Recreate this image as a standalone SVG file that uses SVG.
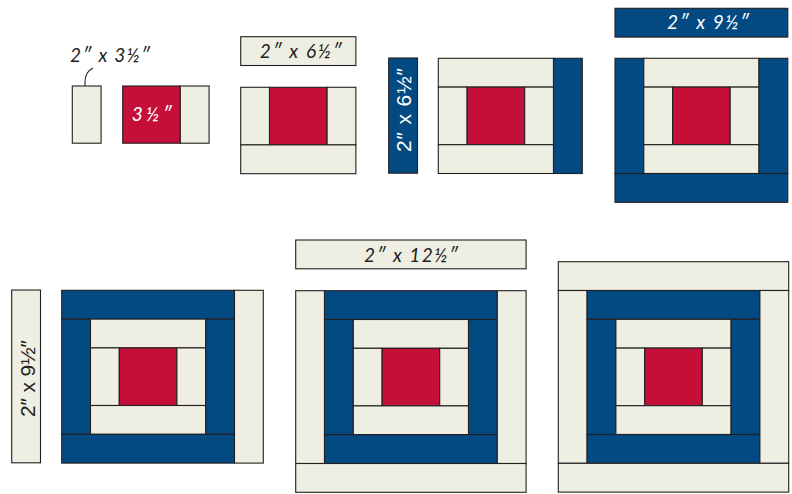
<svg xmlns="http://www.w3.org/2000/svg" width="792" height="494" viewBox="0 0 792 494">
<style>
rect{stroke:#231F20;stroke-width:1.1}
.c{fill:#EEEEE2}
.r{fill:#C41039}
.b{fill:#044A82}
.t{font-family:"Lato","Open Sans","DejaVu Sans",sans-serif;font-style:italic;font-size:19px;fill:#231F20}
.v{font-family:"Liberation Sans","Arial","DejaVu Sans",sans-serif;font-size:21px;fill:#231F20}
text.w{fill:#FFFFFF}
.lead{fill:none;stroke:#231F20;stroke-width:1.1}
</style>
<rect x="0" y="0" width="792" height="494" fill="#FFFFFF" style="stroke:none"/>

<g id="connectors">
<path class="lead" d="M93,68 C87,71 85,76 85,82 L85,93"/>
</g>

<g id="label-2x3half">
<text class="t" x="70" y="62" textLength="80" lengthAdjust="spacing">2″ x 3½″</text>
</g>

<g id="strip-2x3half">
<rect class="c" x="72.3" y="86" width="28.8" height="57.2"/>
</g>

<g id="block-1" transform="translate(122.7,86)">
<rect class="r" x="0" y="0" width="57.6" height="57.2"/>
<rect class="c" x="57.6" y="0" width="28.8" height="57.2"/>
<text class="t w" x="9" y="35" textLength="40" lengthAdjust="spacing">3½″</text>
</g>

<g id="strip-2x6half-h" transform="translate(240.7,36.7)">
<rect class="c" x="0" y="0" width="115.2" height="28.8"/>
<text class="t" x="19" y="21" textLength="82" lengthAdjust="spacing">2″ x 6½″</text>
</g>

<g id="block-2" transform="translate(240.7,87.3)">
<rect class="c" x="0" y="0" width="28.8" height="57.6"/>
<rect class="r" x="28.8" y="0" width="57.6" height="57.6"/>
<rect class="c" x="86.4" y="0" width="28.8" height="57.6"/>
<rect class="c" x="0" y="57.6" width="115.2" height="28.8"/>
</g>

<g id="strip-2x6half-v" transform="translate(388.7,58)">
<rect class="b" x="0" y="0" width="28.8" height="115.2"/>
<text class="v w" transform="translate(22.6,94) rotate(-90)" x="0" y="0" textLength="84" lengthAdjust="spacing">2″ x 6½″</text>
</g>

<g id="block-3" transform="translate(438.3,58.3)">
<rect class="c" x="0" y="0" width="115.2" height="28.8"/>
<rect class="c" x="0" y="28.8" width="28.8" height="57.6"/>
<rect class="r" x="28.8" y="28.8" width="57.6" height="57.6"/>
<rect class="c" x="86.4" y="28.8" width="28.8" height="57.6"/>
<rect class="c" x="0" y="86.4" width="115.2" height="28.8"/>
<rect class="b" x="115.2" y="0" width="28.8" height="115.2"/>
</g>

<g id="strip-2x9half-h" transform="translate(615,8.3)">
<rect class="b" x="0" y="0" width="172.8" height="28.8"/>
<text class="t w" x="52" y="20.5" textLength="82" lengthAdjust="spacing">2″ x 9½″</text>
</g>

<g id="block-4" transform="translate(615,58.3)">
<rect class="b" x="0" y="0" width="28.8" height="115.2"/>
<rect class="c" x="28.8" y="0" width="115.2" height="28.8"/>
<rect class="c" x="28.8" y="28.8" width="28.8" height="57.6"/>
<rect class="r" x="57.6" y="28.8" width="57.6" height="57.6"/>
<rect class="c" x="115.2" y="28.8" width="28.8" height="57.6"/>
<rect class="c" x="28.8" y="86.4" width="115.2" height="28.8"/>
<rect class="b" x="144" y="0" width="28.8" height="115.2"/>
<rect class="b" x="0" y="115.2" width="172.8" height="28.8"/>
</g>

<g id="strip-2x9half-v" transform="translate(11.7,290)">
<rect class="c" x="0" y="0" width="28.8" height="172.8"/>
<text class="v" transform="translate(23.3,127) rotate(-90)" x="0" y="0" textLength="77" lengthAdjust="spacing">2″ x 9½″</text>
</g>

<g id="block-5" transform="translate(61.7,290.3)">
<rect class="b" x="0" y="0" width="172.8" height="28.8"/>
<rect class="b" x="0" y="28.8" width="28.8" height="115.2"/>
<rect class="c" x="28.8" y="28.8" width="115.2" height="28.8"/>
<rect class="c" x="28.8" y="57.6" width="28.8" height="57.6"/>
<rect class="r" x="57.6" y="57.6" width="57.6" height="57.6"/>
<rect class="c" x="115.2" y="57.6" width="28.8" height="57.6"/>
<rect class="c" x="28.8" y="115.2" width="115.2" height="28.8"/>
<rect class="b" x="144" y="28.8" width="28.8" height="115.2"/>
<rect class="b" x="0" y="144" width="172.8" height="28.8"/>
<rect class="c" x="172.8" y="0" width="28.8" height="172.8"/>
</g>

<g id="strip-2x12half-h" transform="translate(295.7,240)">
<rect class="c" x="0" y="0" width="230.4" height="28.8"/>
<text class="t" x="68.3" y="21.7" textLength="94" lengthAdjust="spacing">2″ x 12½″</text>
</g>

<g id="block-6" transform="translate(295.7,290.7)">
<rect class="c" x="0" y="0" width="28.8" height="172.8"/>
<rect class="b" x="28.8" y="0" width="172.8" height="28.8"/>
<rect class="b" x="28.8" y="28.8" width="28.8" height="115.2"/>
<rect class="c" x="57.6" y="28.8" width="115.2" height="28.8"/>
<rect class="c" x="57.6" y="57.6" width="28.8" height="57.6"/>
<rect class="r" x="86.4" y="57.6" width="57.6" height="57.6"/>
<rect class="c" x="144" y="57.6" width="28.8" height="57.6"/>
<rect class="c" x="57.6" y="115.2" width="115.2" height="28.8"/>
<rect class="b" x="172.8" y="28.8" width="28.8" height="115.2"/>
<rect class="b" x="28.8" y="144" width="172.8" height="28.8"/>
<rect class="c" x="201.6" y="0" width="28.8" height="172.8"/>
<rect class="c" x="0" y="172.8" width="230.4" height="28.8"/>
</g>

<g id="block-7" transform="translate(558.3,261.7)">
<rect class="c" x="0" y="0" width="230.4" height="28.8"/>
<rect class="c" x="0" y="28.8" width="28.8" height="172.8"/>
<rect class="b" x="28.8" y="28.8" width="172.8" height="28.8"/>
<rect class="b" x="28.8" y="57.6" width="28.8" height="115.2"/>
<rect class="c" x="57.6" y="57.6" width="115.2" height="28.8"/>
<rect class="c" x="57.6" y="86.4" width="28.8" height="57.6"/>
<rect class="r" x="86.4" y="86.4" width="57.6" height="57.6"/>
<rect class="c" x="144" y="86.4" width="28.8" height="57.6"/>
<rect class="c" x="57.6" y="144" width="115.2" height="28.8"/>
<rect class="b" x="172.8" y="57.6" width="28.8" height="115.2"/>
<rect class="b" x="28.8" y="172.8" width="172.8" height="28.8"/>
<rect class="c" x="201.6" y="28.8" width="28.8" height="172.8"/>
<rect class="c" x="0" y="201.6" width="230.4" height="28.8"/>
</g>
</svg>
